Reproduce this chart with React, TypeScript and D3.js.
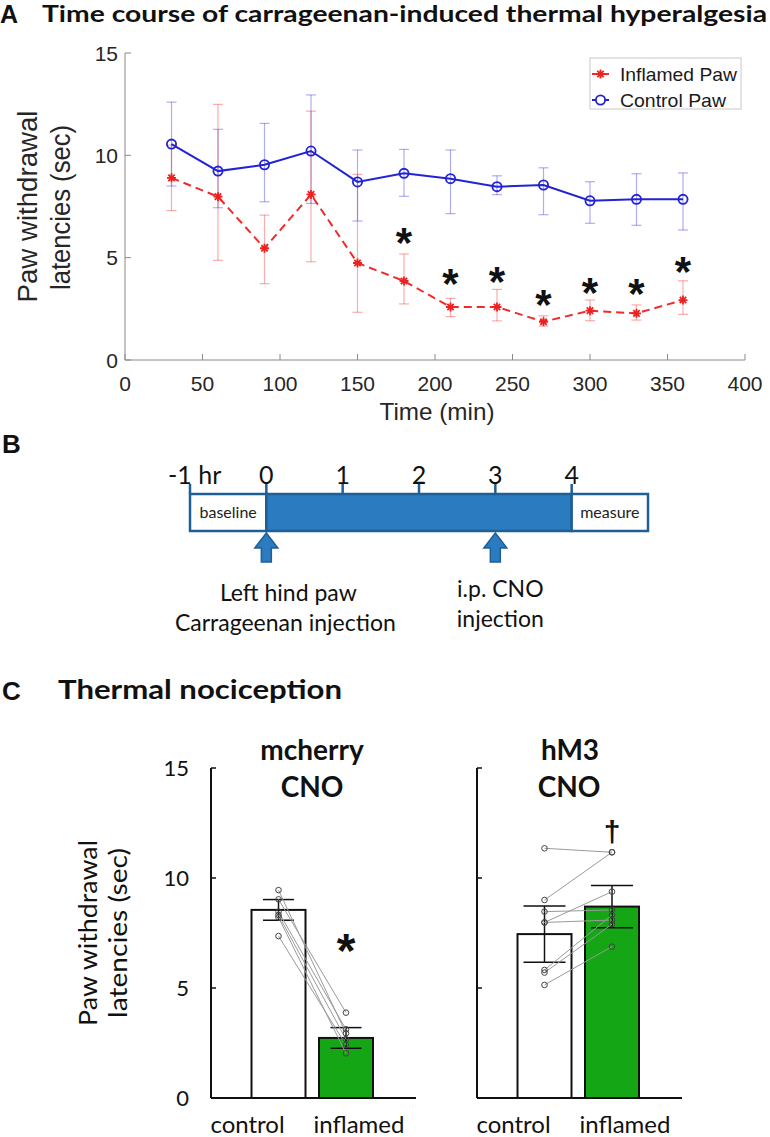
import React from 'react';
import * as d3 from 'd3';

// ---------- Panel A data ----------
const times = [30, 60, 90, 120, 150, 180, 210, 240, 270, 300, 330, 360];
const inflamedMean = [8.9, 7.98, 5.46, 8.09, 4.74, 3.86, 2.59, 2.59, 1.87, 2.41, 2.28, 2.93];
const inflamedUpper = [10.5, 12.49, 7.08, 12.16, 9.07, 5.18, 3.01, 3.45, 2.16, 2.93, 2.69, 3.87];
const inflamedLower = [7.3, 4.87, 3.73, 4.8, 2.33, 2.74, 2.12, 1.91, 1.66, 1.92, 1.95, 2.23];
const controlMean = [10.55, 9.23, 9.54, 10.21, 8.7, 9.12, 8.86, 8.47, 8.55, 7.78, 7.85, 7.85];
const controlUpper = [12.6, 11.27, 11.56, 12.95, 10.26, 10.29, 10.26, 9.0, 9.39, 8.71, 9.1, 9.14];
const controlLower = [8.5, 7.44, 7.73, 7.65, 6.79, 8.0, 7.15, 8.08, 7.1, 6.68, 6.58, 6.35];
const starTimes = [180, 210, 240, 270, 300, 330, 360];
const starValues = [6.2, 4.2, 4.28, 3.14, 3.75, 3.71, 4.77];
const xTicksA = [0, 50, 100, 150, 200, 250, 300, 350, 400];
const yTicksA = [0, 5, 10, 15];

// ---------- Panel B data ----------
const hourTicks = [-1, 0, 1, 2, 3, 4];
const hourLabels = ['-1 hr', '0', '1', '2', '3', '4'];
const segStart = [-1, 0, 4];
const segEnd = [0, 4, 5];
const segLabel = ['baseline', '', 'measure'];
const segFilled = [false, true, false];
const arrowHours = [0, 3];
const arrowText1 = ['Left hind paw', 'i.p. CNO'];
const arrowText2 = ['Carrageenan injection', 'injection'];

// ---------- Panel C data ----------
const groups = ['control', 'inflamed'];
const titlesL1 = ['mcherry', 'hM3'];
const titlesL2 = ['CNO', 'CNO'];
const barMeans = [[8.55, 2.73], [7.45, 8.7]];
const barSem = [[0.47, 0.47], [1.28, 0.96]];
const ptsControl = [
  [9.45, 9.03, 8.47, 8.32, 8.21, 7.36],
  [11.35, 9.0, 7.98, 8.47, 7.98, 5.82, 5.7, 5.14],
];
const ptsInflamed = [
  [2.94, 3.88, 3.12, 2.67, 2.03, 2.41],
  [11.17, 11.17, 9.38, 8.55, 8.09, 8.32, 7.9, 6.88],
];
const sigMark = ['*', '†'];
const sigValue = [7.18, 12.1];
const yTicksC = [0, 5, 10, 15];

const ARIAL = '"Liberation Sans", Arial, sans-serif';
const LATO = 'Lato, "Open Sans", sans-serif';

function PanelA() {
  const x = d3.scaleLinear().domain([0, 400]).range([125, 745]);
  const y = d3.scaleLinear().domain([0, 15]).range([360, 53]);
  const line = d3.line<number>().x((_, i) => x(times[i])).y((d) => y(d));
  const axisColor = '#8a8a8a';
  const txt = '#262626';
  const starPath = 'M-4.5,0L4.5,0M0,-4.5L0,4.5M-3.2,-3.2L3.2,3.2M-3.2,3.2L3.2,-3.2';
  return (
    <g>
      <text x={0} y={23} fontFamily={ARIAL} fontWeight="bold" fontSize={25} fill="#111">A</text>
      <text x={42} y={22} fontFamily={LATO} fontWeight="bold" fontSize={22} fill="#111"
        textLength={725} lengthAdjust="spacingAndGlyphs">Time course of carrageenan-induced thermal hyperalgesia</text>
      {/* axes */}
      <line x1={x(0)} x2={x(400)} y1={y(0)} y2={y(0)} stroke={axisColor} strokeWidth={1} />
      <line x1={x(0)} x2={x(0)} y1={y(0)} y2={y(15)} stroke={axisColor} strokeWidth={1} />
      {xTicksA.map((t) => (
        <g key={'xt' + t}>
          <line x1={x(t)} x2={x(t)} y1={y(0)} y2={y(0) - 6} stroke={axisColor} />
          <text x={x(t)} y={391} textAnchor="middle" fontFamily={ARIAL} fontSize={21} fill={txt}>{t}</text>
        </g>
      ))}
      {yTicksA.map((t) => (
        <g key={'yt' + t}>
          <line x1={x(0)} x2={x(0) + 6} y1={y(t)} y2={y(t)} stroke={axisColor} />
          <text x={118} y={y(t)} dy="0.36em" textAnchor="end" fontFamily={ARIAL} fontSize={21} fill={txt}>{t}</text>
        </g>
      ))}
      <text x={x(200) + 2} y={420} textAnchor="middle" fontFamily={ARIAL} fontSize={24} fill={txt}
        textLength={115} lengthAdjust="spacingAndGlyphs">Time (min)</text>
      <text transform={`translate(37,${(y(0) + y(15)) / 2}) rotate(-90)`} textAnchor="middle" fontFamily={ARIAL}
        fontSize={27} fill={txt} textLength={192} lengthAdjust="spacingAndGlyphs">Paw withdrawal</text>
      <text transform={`translate(70,${(y(0) + y(15)) / 2 + 1}) rotate(-90)`} textAnchor="middle" fontFamily={ARIAL}
        fontSize={27} fill={txt} textLength={165} lengthAdjust="spacingAndGlyphs">latencies (sec)</text>

      {/* error bars */}
      {times.map((t, i) => (
        <g key={'ebc' + t} stroke="rgba(40,40,230,0.38)" strokeWidth={1.2}>
          <line x1={x(t)} x2={x(t)} y1={y(controlUpper[i])} y2={y(controlLower[i])} />
          <line x1={x(t) - 5} x2={x(t) + 5} y1={y(controlUpper[i])} y2={y(controlUpper[i])} />
          <line x1={x(t) - 5} x2={x(t) + 5} y1={y(controlLower[i])} y2={y(controlLower[i])} />
        </g>
      ))}
      {times.map((t, i) => (
        <g key={'ebi' + t} stroke="rgba(240,40,40,0.38)" strokeWidth={1.2}>
          <line x1={x(t)} x2={x(t)} y1={y(inflamedUpper[i])} y2={y(inflamedLower[i])} />
          <line x1={x(t) - 5} x2={x(t) + 5} y1={y(inflamedUpper[i])} y2={y(inflamedUpper[i])} />
          <line x1={x(t) - 5} x2={x(t) + 5} y1={y(inflamedLower[i])} y2={y(inflamedLower[i])} />
        </g>
      ))}
      <path d={line(controlMean) || ''} fill="none" stroke="#2323d6" strokeWidth={2} />
      <path d={line(inflamedMean) || ''} fill="none" stroke="#ef2b2b" strokeWidth={2} strokeDasharray="8,5" />
      {times.map((t, i) => (
        <circle key={'mc' + t} cx={x(t)} cy={y(controlMean[i])} r={4.6} fill="none" stroke="#2323d6" strokeWidth={1.8} />
      ))}
      {times.map((t, i) => (
        <path key={'mi' + t} d={starPath} transform={`translate(${x(t)},${y(inflamedMean[i])})`} stroke="#ef2020" strokeWidth={1.8} />
      ))}
      {starTimes.map((t, i) => (
        <text key={'st' + t} x={x(t)} y={y(starValues[i]) + 0.56 * 42} textAnchor="middle" fontFamily={ARIAL}
          fontWeight="bold" fontSize={42} fill="#111">*</text>
      ))}
      {/* legend */}
      <rect x={590} y={58} width={151} height={51} fill="#fff" stroke="#c8c8c8" strokeWidth={1} />
      <line x1={592} x2={609} y1={74} y2={74} stroke="#ef2b2b" strokeWidth={2} />
      <path d={starPath} transform="translate(600.5,74)" stroke="#ef2020" strokeWidth={1.8} />
      <text x={620} y={74} dy="0.36em" fontFamily={ARIAL} fontSize={19} fill="#1a1a1a"
        textLength={117} lengthAdjust="spacingAndGlyphs">Inflamed Paw</text>
      <line x1={592} x2={609} y1={100} y2={100} stroke="#2323d6" strokeWidth={2} />
      <circle cx={600.5} cy={100} r={4.6} fill="#fff" stroke="#2323d6" strokeWidth={1.8} />
      <text x={620} y={100} dy="0.36em" fontFamily={ARIAL} fontSize={19} fill="#1a1a1a"
        textLength={106} lengthAdjust="spacingAndGlyphs">Control Paw</text>
    </g>
  );
}

function PanelB() {
  const x = d3.scaleLinear().domain([-1, 5]).range([190, 648]);
  const top = 494;
  const bottom = 531;
  const blue = '#2a7bbf';
  const dark = '#1f5f96';
  return (
    <g>
      <text x={2} y={453} fontFamily={ARIAL} fontWeight="bold" fontSize={26} fill="#111">B</text>
      {segStart.map((s, i) => (
        <rect key={'seg' + i} x={x(s)} y={top} width={x(segEnd[i]) - x(s)} height={bottom - top}
          fill={segFilled[i] ? blue : '#fff'} stroke={dark} strokeWidth={2.5} />
      ))}
      {segStart.map((s, i) => segLabel[i] ? (
        <text key={'sl' + i} x={(x(s) + x(segEnd[i])) / 2} y={518} textAnchor="middle" fontFamily={LATO}
          fontSize={16} fill="#222">{segLabel[i]}</text>
      ) : null)}
      {hourTicks.map((h, i) => (
        <g key={'ht' + h}>
          <line x1={x(h)} x2={x(h)} y1={484} y2={top} stroke={dark} strokeWidth={2.5} />
          <text x={h === -1 ? 168 : x(h)} y={484} textAnchor={h === -1 ? 'start' : 'middle'} fontFamily={LATO}
            fontSize={25} fill="#111">{hourLabels[i]}</text>
        </g>
      ))}
      {arrowHours.map((h, i) => {
        const cx = x(h);
        const y0 = 533;
        const y1 = 562;
        const d = `M${cx},${y0}L${cx + 11.5},${y0 + 15}L${cx + 5},${y0 + 15}L${cx + 5},${y1}L${cx - 5},${y1}L${cx - 5},${y0 + 15}L${cx - 11.5},${y0 + 15}Z`;
        return (
          <g key={'ar' + h}>
            <path d={d} fill={blue} stroke={dark} strokeWidth={1.5} />
            <text x={cx + (i === 0 ? 22 : 5)} y={i === 0 ? 601 : 597} textAnchor="middle" fontFamily={LATO} fontSize={23} fill="#111">{arrowText1[i]}</text>
            <text x={cx + (i === 0 ? 19 : 5)} y={i === 0 ? 631 : 627} textAnchor="middle" fontFamily={LATO} fontSize={23} fill="#111">{arrowText2[i]}</text>
          </g>
        );
      })}
    </g>
  );
}

function BarPanel({ idx, axisX }: { idx: number; axisX: number }) {
  const y = d3.scaleLinear().domain([0, 15]).range([1098, 768]);
  const xp = d3.scalePoint<string>().domain(groups).range([axisX + 67.5, axisX + 135]);
  const bw = 54;
  const cap = idx === 0 ? 15.5 : 21;
  const fills = ['#fff', '#14a614'];
  const labelOffsets = [-31, 13];
  const cx = (g: string) => xp(g) as number;
  return (
    <g>
      <text x={idx === 0 ? axisX + 101 : axisX + 93} y={760} textAnchor="middle" fontFamily={LATO} fontWeight="bold"
        fontSize={28} fill="#111">{titlesL1[idx]}</text>
      <text x={idx === 0 ? axisX + 101 : axisX + 92} y={797} textAnchor="middle" fontFamily={LATO} fontWeight="bold"
        fontSize={28} fill="#111">{titlesL2[idx]}</text>
      {groups.map((g, gi) => (
        <rect key={'bar' + g} x={cx(g) - bw / 2} y={y(barMeans[idx][gi])} width={bw}
          height={y(0) - y(barMeans[idx][gi])} fill={fills[gi]} stroke="#111" strokeWidth={2} />
      ))}
      {/* axes */}
      <line x1={axisX} x2={axisX + 205} y1={y(0)} y2={y(0)} stroke="#111" strokeWidth={2} />
      <line x1={axisX} x2={axisX} y1={y(0)} y2={y(15)} stroke="#111" strokeWidth={2} />
      {yTicksC.map((t) => (
        <g key={'ct' + t}>
          <line x1={axisX} x2={axisX + 5} y1={y(t)} y2={y(t)} stroke="#111" strokeWidth={1.5} />
          {idx === 0 && (
            <text x={189} y={y(t)} dy="0.36em" textAnchor="end" fontFamily={LATO} fontSize={22} fill="#111">{t}</text>
          )}
        </g>
      ))}
      {/* error bars */}
      {groups.map((g, gi) => {
        const m = barMeans[idx][gi];
        const s = barSem[idx][gi];
        return (
          <g key={'eb' + g} stroke="#111" strokeWidth={1.5}>
            <line x1={cx(g)} x2={cx(g)} y1={y(m + s)} y2={y(m - s)} />
            <line x1={cx(g) - cap} x2={cx(g) + cap} y1={y(m + s)} y2={y(m + s)} />
            <line x1={cx(g) - cap} x2={cx(g) + cap} y1={y(m - s)} y2={y(m - s)} />
          </g>
        );
      })}
      {ptsControl[idx].map((v, i) => (
        <line key={'pl' + i} x1={cx('control')} x2={cx('inflamed')} y1={y(v)} y2={y(ptsInflamed[idx][i])}
          stroke="#9a9a9a" strokeWidth={1} />
      ))}
      {ptsControl[idx].map((v, i) => (
        <circle key={'pc' + i} cx={cx('control')} cy={y(v)} r={2.8} fill="none" stroke="#444" strokeWidth={1} />
      ))}
      {ptsInflamed[idx].map((v, i) => (
        <circle key={'pi' + i} cx={cx('inflamed')} cy={y(v)} r={2.8} fill="none" stroke="#444" strokeWidth={1} />
      ))}
      {idx === 0 ? (
        <text x={cx('inflamed')} y={y(sigValue[idx]) + 0.56 * 48} textAnchor="middle" fontFamily={ARIAL}
          fontWeight="bold" fontSize={48} fill="#111">{sigMark[idx]}</text>
      ) : (
        <text x={cx('inflamed')} y={y(sigValue[idx]) + 10} textAnchor="middle" fontFamily={ARIAL}
          fontWeight="bold" fontSize={30} fill="#111">{sigMark[idx]}</text>
      )}
      {groups.map((g, gi) => (
        <text key={'gl' + g} x={cx(g) + labelOffsets[gi]} y={1133} textAnchor="middle" fontFamily={LATO}
          fontSize={24} fill="#111">{g}</text>
      ))}
    </g>
  );
}

function PanelC() {
  return (
    <g>
      <text x={2} y={700} fontFamily={ARIAL} fontWeight="bold" fontSize={26} fill="#111">C</text>
      <text x={58} y={699} fontFamily={LATO} fontWeight="bold" fontSize={27} fill="#111"
        textLength={284} lengthAdjust="spacingAndGlyphs">Thermal nociception</text>
      <text transform="translate(97,933) rotate(-90)" textAnchor="middle" fontFamily={LATO} fontSize={25} fill="#111"
        textLength={186} lengthAdjust="spacingAndGlyphs">Paw withdrawal</text>
      <text transform="translate(127,933) rotate(-90)" textAnchor="middle" fontFamily={LATO} fontSize={25} fill="#111"
        textLength={170} lengthAdjust="spacingAndGlyphs">latencies (sec)</text>
      <BarPanel idx={0} axisX={211} />
      <BarPanel idx={1} axisX={477} />
    </g>
  );
}

export default function App() {
  return (
    <svg width={770} height={1137} viewBox="0 0 770 1137"
      style={{ position: 'absolute', left: 0, top: 0, display: 'block', background: '#fff' }}>
      <rect x={0} y={0} width={770} height={1137} fill="#fff" />
      <PanelA />
      <PanelB />
      <PanelC />
    </svg>
  );
}
